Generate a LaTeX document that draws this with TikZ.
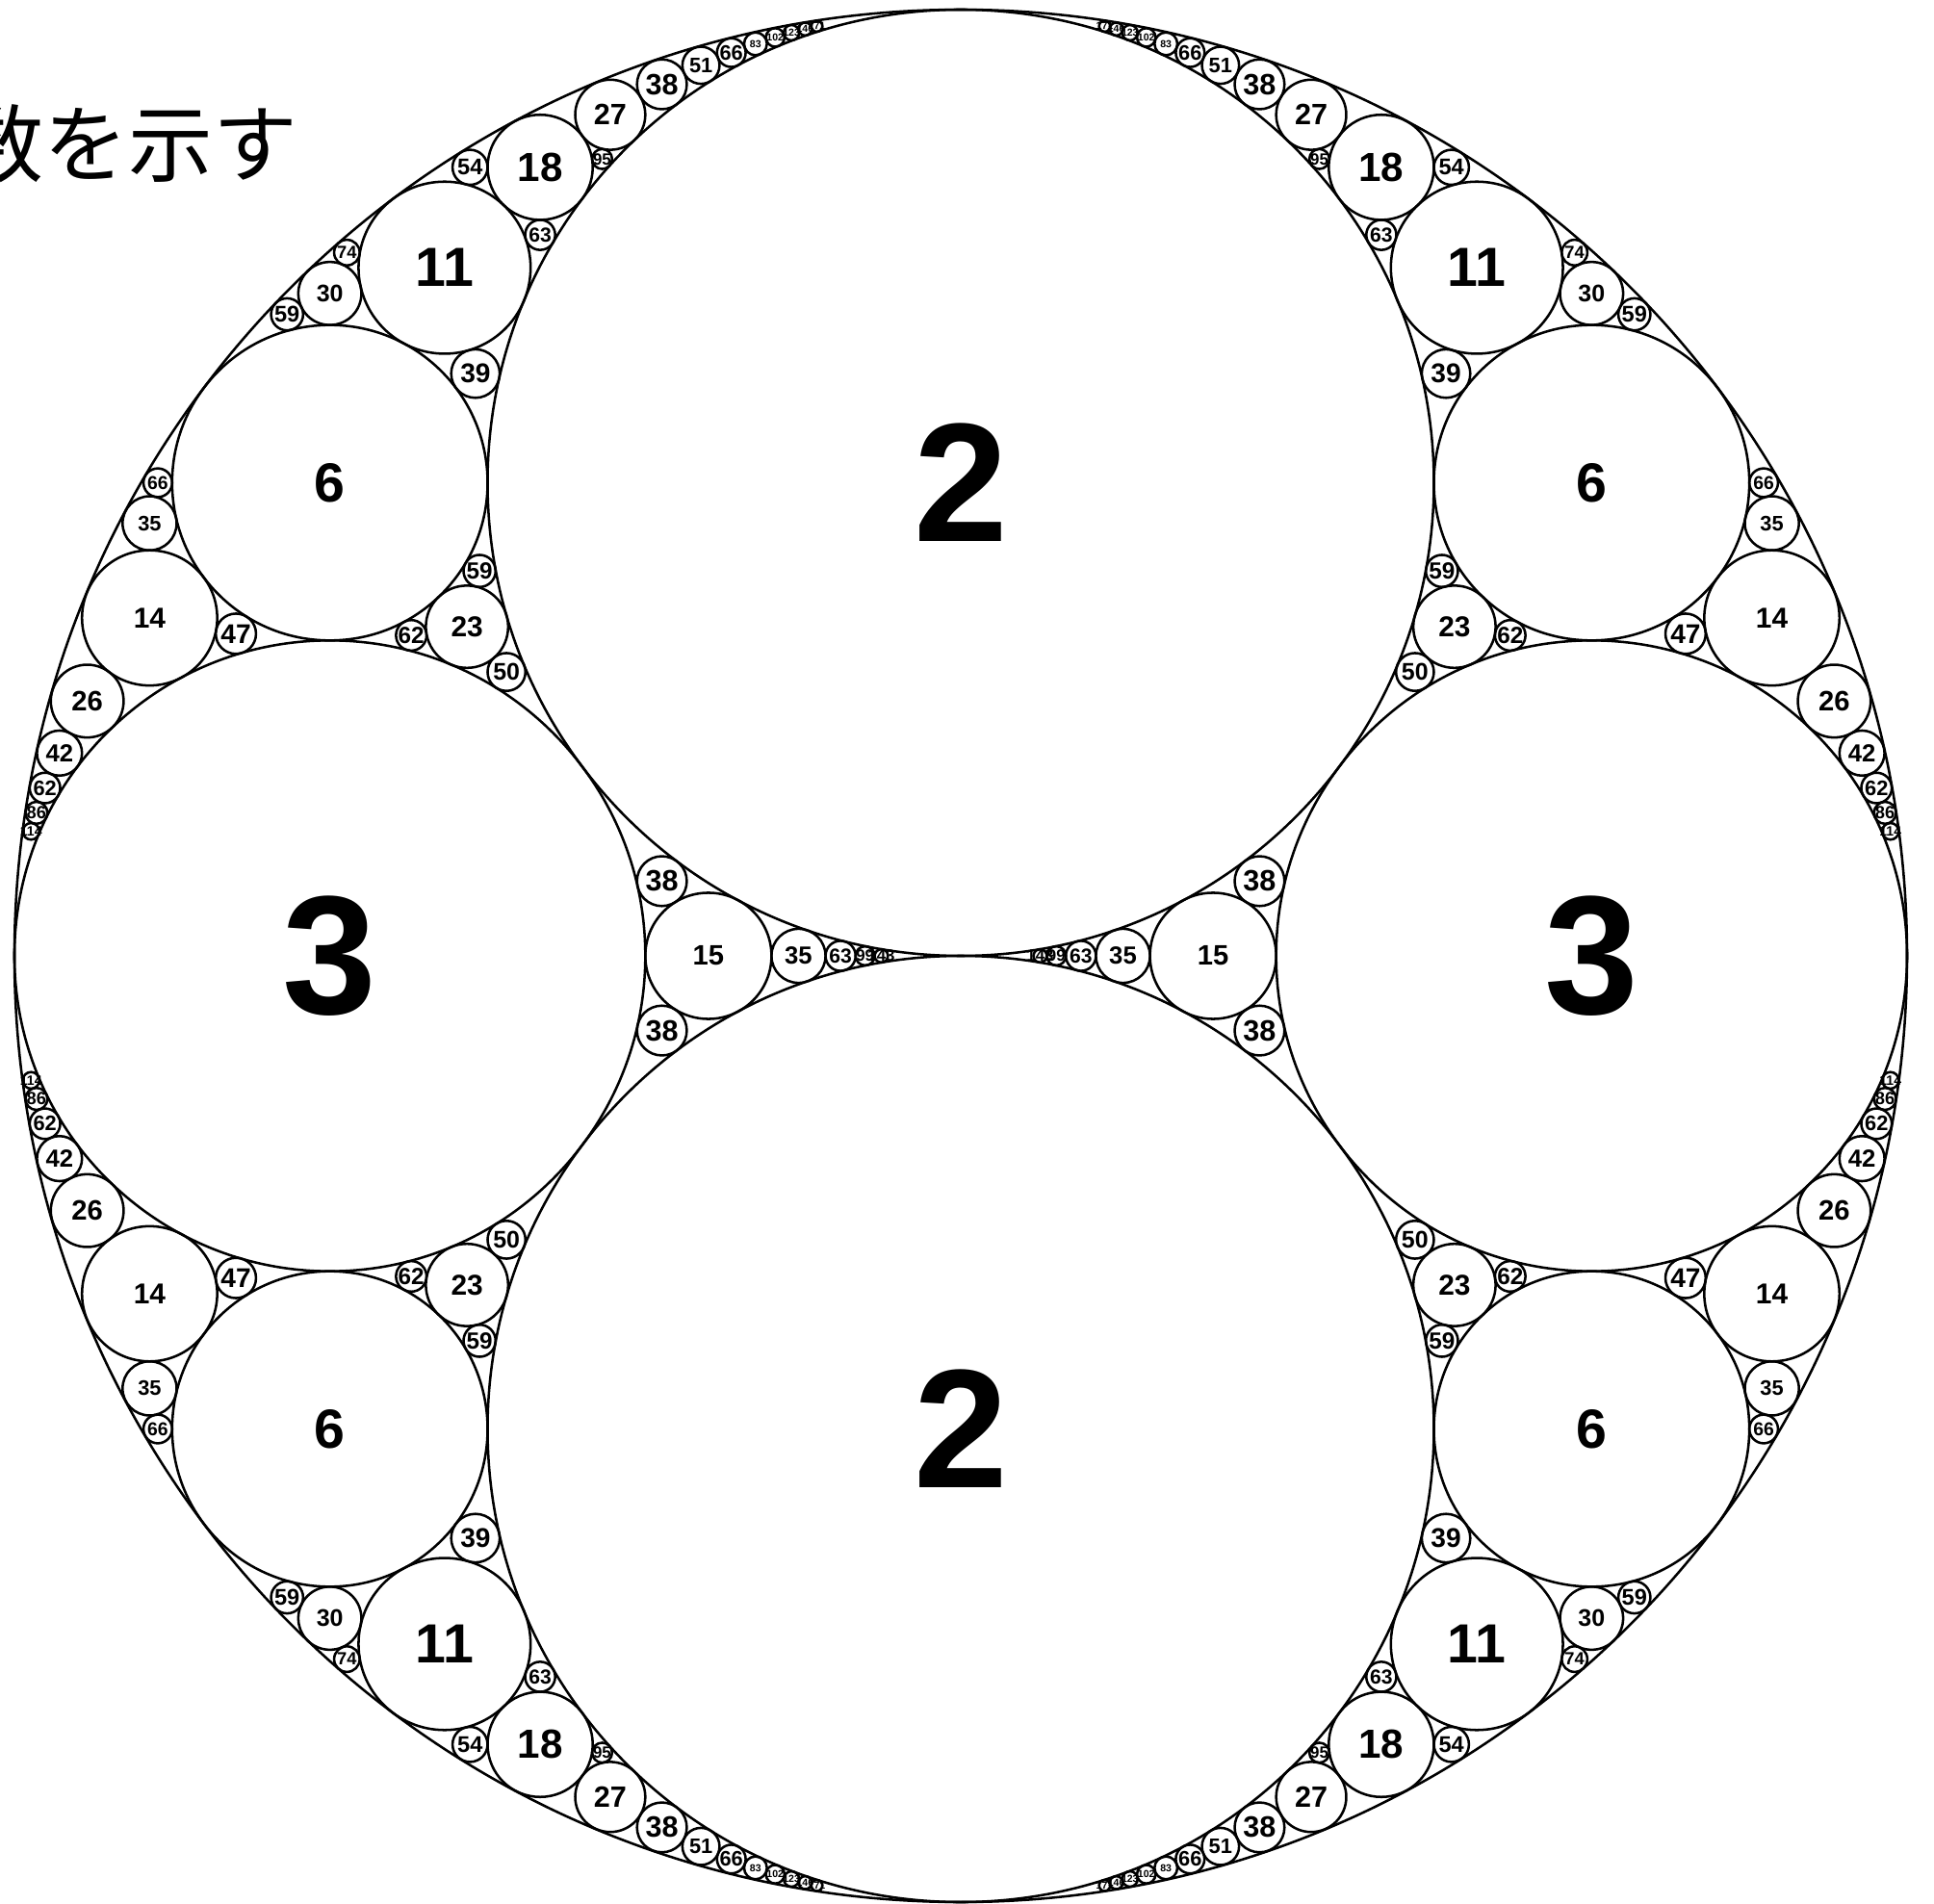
\documentclass[tikz,border=0pt]{standalone}
\usepackage{fontspec}
\setmainfont{Liberation Sans}
\newfontfamily\jpfont{Noto Sans CJK JP}
\newcount\ci
\def\Rr{9.83}
\tikzset{
  circ/.style={draw=black, line width=0.72pt},
  lab/.style={inner sep=0pt, outer sep=0pt, text=black}
}
% one circle: curvature, k*x, k*y, label size (pt)
\newcommand\gc[4]{%
  \global\advance\ci by 1
  \draw[circ] ({\Rr*(#2)/(#1)},{\Rr*(#3)/(#1)}) circle[radius={\Rr/(#1)}];
  \node[lab, font=\fontsize{#4}{#4}\selectfont\bfseries] (n\the\ci) at ({\Rr*(#2)/(#1)},{\Rr*(#3)/(#1)}) {#1};}
% four-fold symmetric copies
\newcommand\qc[4]{\gc{#1}{#2}{#3}{#4}\gc{#1}{-(#2)}{#3}{#4}\gc{#1}{#2}{-(#3)}{#4}\gc{#1}{-(#2)}{-(#3)}{#4}}
% circles on the horizontal axis
\newcommand\hc[3]{\gc{#1}{#2}{0}{#3}\gc{#1}{-(#2)}{0}{#3}}
\begin{document}
\begin{tikzpicture}
\useasboundingbox (-9.98,-9.84) rectangle (10.11,9.93);
\clip (-9.98,-9.84) rectangle (10.11,9.93);
\fill[white] (-9.98,-9.84) rectangle (10.11,9.93);
\node[anchor=base east, inner sep=0pt, font=\jpfont\fontsize{25}{25}\selectfont] (cap) at (-6.88,8.1) {数を示す};
% outer circle
\draw[circ] (0,0) circle[radius=\Rr];
% big circles
\gc{2}{0}{1}{50}
\gc{2}{0}{-1}{50}
\hc{3}{-2}{50}
% chain between outer circle and the 2-circles
\qc{6}{-4}{3}{16.3}
\qc{11}{-6}{8}{16.3}
\qc{18}{-8}{15}{12}
\qc{27}{-10}{24}{8.7}
\qc{38}{-12}{35}{8.7}
\qc{51}{-14}{48}{6.2}
\qc{66}{-16}{63}{6.2}
\qc{83}{-18}{80}{3}
\qc{102}{-20}{99}{3}
\qc{123}{-22}{120}{3}
\qc{146}{-24}{143}{3}
\qc{171}{-26}{168}{3}
% chain between outer circle and the 3-circles
\qc{14}{-12}{5}{8.5}
\qc{26}{-24}{7}{8.3}
\qc{42}{-40}{9}{7.3}
\qc{62}{-60}{11}{6.2}
\qc{86}{-84}{13}{5.2}
\qc{114}{-112}{15}{4}
% chain between the two 2-circles
\hc{15}{-4}{8.3}
\hc{35}{-6}{7.3}
\hc{63}{-8}{6}
\hc{99}{-10}{4.8}
\hc{143}{-12}{4.8}
% other circles
\qc{30}{-20}{21}{7.1}
\qc{59}{-42}{40}{6.7}
\qc{74}{-48}{55}{5.2}
\qc{39}{-20}{24}{8}
\qc{63}{-28}{48}{6}
\qc{54}{-28}{45}{6.7}
\qc{95}{-36}{80}{4.8}
\qc{35}{-30}{16}{6.2}
\qc{66}{-56}{33}{5.5}
\qc{47}{-36}{16}{8}
\qc{23}{-12}{8}{8.5}
\qc{59}{-30}{24}{6.9}
\qc{62}{-36}{21}{6.9}
\qc{50}{-24}{15}{7.1}
\qc{38}{-12}{3}{8.7}
\end{tikzpicture}
\end{document}
